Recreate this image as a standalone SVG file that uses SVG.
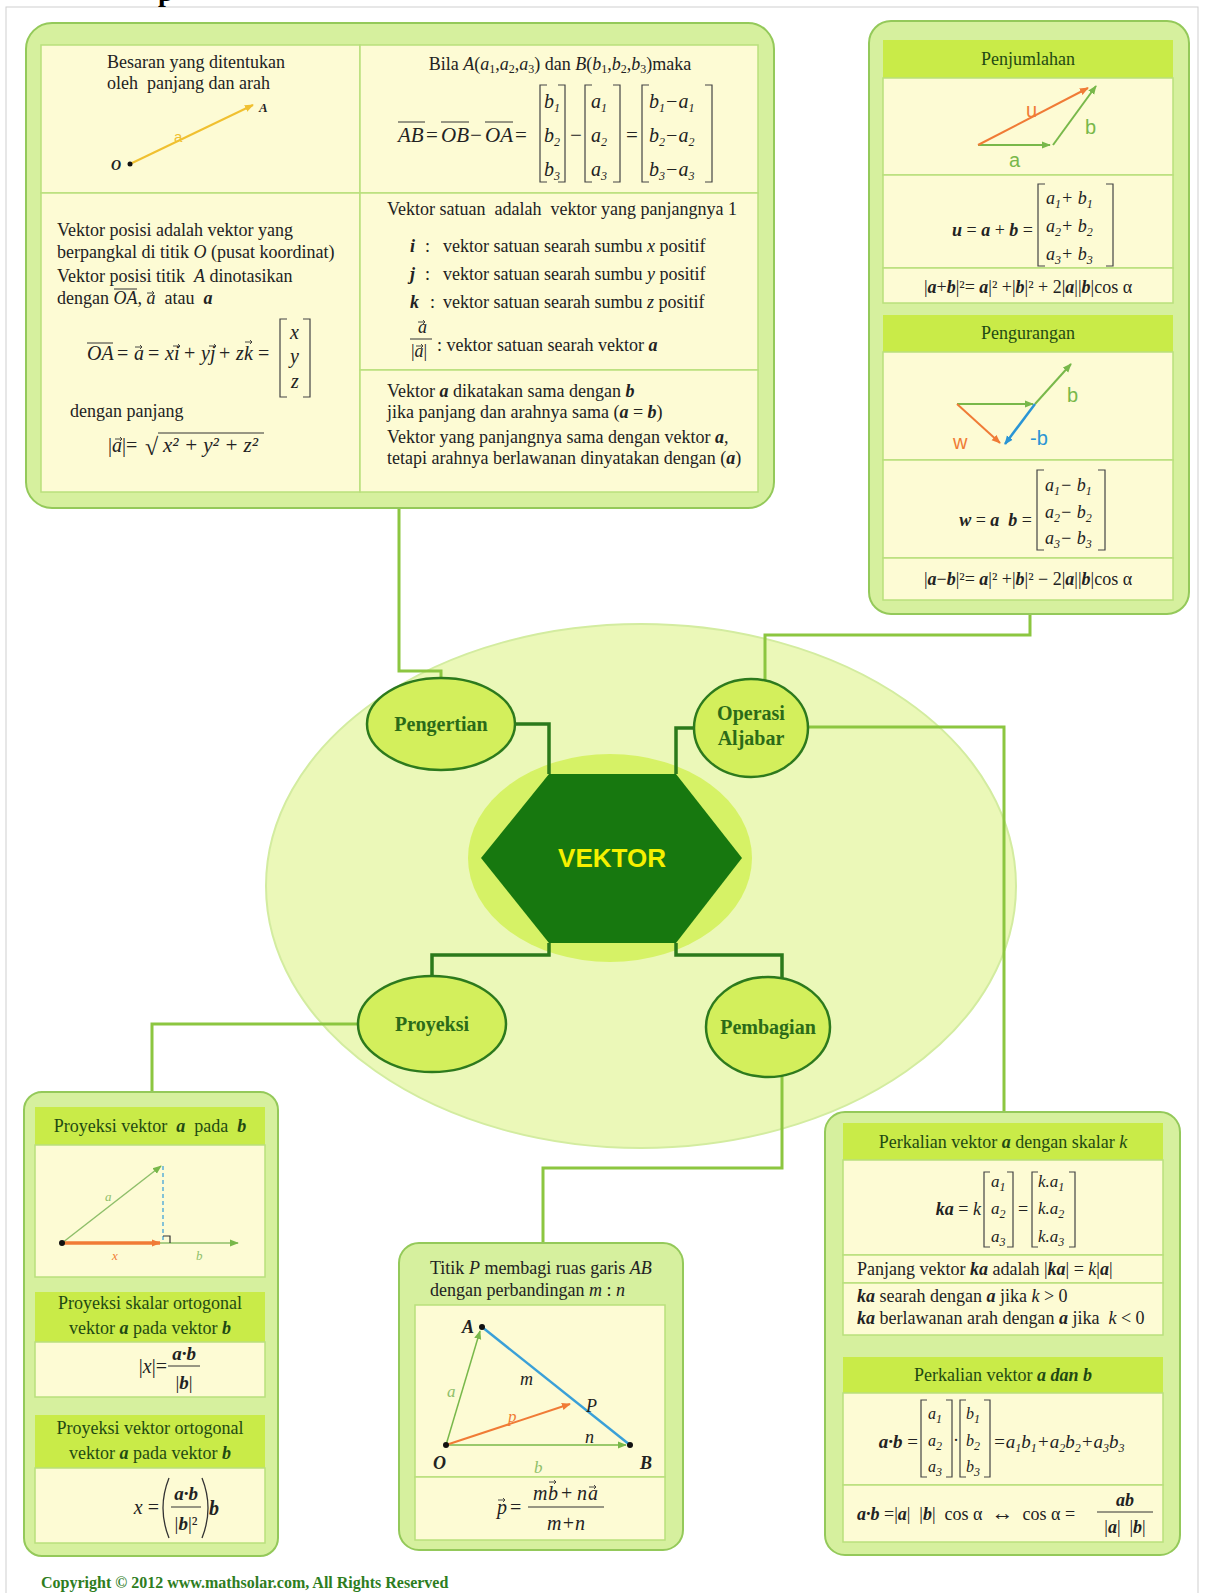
<svg xmlns="http://www.w3.org/2000/svg" xmlns:xlink="http://www.w3.org/1999/xlink" width="1213" height="1593" viewBox="0 0 1213 1593">
<style>
.t{font-family:"Liberation Serif","Times New Roman",serif;font-size:18px;fill:#222}
.i{font-style:italic}
.bi{font-style:italic;font-weight:bold}
.sb{font-size:12px}
.outer{fill:#d6f09e;stroke:#94c95a;stroke-width:2}
.cell{fill:#fdfbd4;stroke:#b9e07c;stroke-width:1.5}
.hdr{fill:#c9eb48}
.ht{font-family:"Liberation Serif","Times New Roman",serif;font-size:18px;fill:#1f4a12;text-anchor:middle}
.node{fill:#d3ef5c;stroke:#2d7a1d;stroke-width:2.5}
.nt{font-family:"Liberation Serif","Times New Roman",serif;font-weight:bold;font-size:20px;fill:#2b6b18;text-anchor:middle}
.lc{fill:none;stroke:#8cc640;stroke-width:3}
.dc{fill:none;stroke:#2b7a1b;stroke-width:3.5}
.br{fill:none;stroke:#444;stroke-width:1.2}
.ln{stroke:#333;stroke-width:1}
.lab{font-family:"Liberation Sans",Arial,sans-serif;font-size:20px}
.m{font-family:"Liberation Serif","Times New Roman",serif;font-size:20px;font-style:italic;fill:#222}
.u{font-family:"Liberation Serif","Times New Roman",serif;font-size:20px;fill:#222}
</style>
<defs>
<marker id="ag" viewBox="0 0 10 10" refX="9" refY="5" markerWidth="9" markerHeight="9" orient="auto" markerUnits="userSpaceOnUse"><path d="M0,1 L10,5 L0,9 z" fill="#78b84a"/></marker>
<marker id="ao" viewBox="0 0 10 10" refX="9" refY="5" markerWidth="9" markerHeight="9" orient="auto" markerUnits="userSpaceOnUse"><path d="M0,1 L10,5 L0,9 z" fill="#f07b36"/></marker>
<marker id="ab" viewBox="0 0 10 10" refX="9" refY="5" markerWidth="9" markerHeight="9" orient="auto" markerUnits="userSpaceOnUse"><path d="M0,1 L10,5 L0,9 z" fill="#2a95d5"/></marker>
<marker id="ay" viewBox="0 0 10 10" refX="9" refY="5" markerWidth="9" markerHeight="9" orient="auto" markerUnits="userSpaceOnUse"><path d="M0,1 L10,5 L0,9 z" fill="#f0c030"/></marker>
<path id="vec" d="M0,0 H7 M5,-2 L7,0 L5,2" fill="none" stroke="#333" stroke-width="0.9"/>
</defs>
<rect width="1213" height="1593" fill="#ffffff"/>
<rect x="6" y="7" width="1192" height="1620" fill="none" stroke="#cfcfcf" stroke-width="1"/>
<text x="158" y="1" style="font-family:'Liberation Serif',serif;font-weight:bold;font-size:28px;fill:#000">p</text>

<g id="center-ellipse">
<ellipse cx="641" cy="886" rx="375" ry="262" fill="#ebf8b8" stroke="#d3eca0" stroke-width="2"/>
<ellipse cx="610" cy="858" rx="142" ry="104" fill="#d6f266"/>
</g>

<g id="connectors">
<path class="lc" d="M399,508 V671 H441 V678"/>
<path class="lc" d="M1030,614 V635 H765 V680"/>
<path class="lc" d="M808,727 H1004 V1112"/>
<path class="lc" d="M358,1024 H152 V1092"/>
<path class="lc" d="M782,1076 V1168 H543 V1243"/>
<path class="dc" d="M515,724 H549 V774"/>
<path class="dc" d="M694,728 H676 V774"/>
<path class="dc" d="M549,943 V955 H432 V976"/>
<path class="dc" d="M676,943 V955 H782 V978"/>
</g>

<g id="vektor">
<polygon points="549,774 676,774 742,858 676,943 549,943 481,858" fill="#17780f"/>
<text x="612" y="867" text-anchor="middle" style="font-family:'Liberation Sans',Arial,sans-serif;font-weight:bold;font-size:26px;fill:#f5f000">VEKTOR</text>
</g>
<g id="pengertian">
<ellipse class="node" cx="441" cy="724" rx="74" ry="46"/>
<text class="nt" x="441" y="731">Pengertian</text>
</g>
<g id="operasi-aljabar">
<ellipse class="node" cx="751" cy="728" rx="57" ry="49"/>
<text class="nt" x="751" y="720">Operasi</text>
<text class="nt" x="751" y="745">Aljabar</text>
</g>
<g id="proyeksi">
<ellipse class="node" cx="432" cy="1024" rx="74" ry="48"/>
<text class="nt" x="432" y="1031">Proyeksi</text>
</g>
<g id="pembagian">
<ellipse class="node" cx="768" cy="1027" rx="62" ry="50"/>
<text class="nt" x="768" y="1034">Pembagian</text>
</g>

<g id="box-pengertian">
<rect class="outer" x="26" y="23" width="748" height="485" rx="26"/>
<rect class="cell" x="41" y="45" width="319" height="148"/>
<rect class="cell" x="360" y="45" width="398" height="148"/>
<rect class="cell" x="41" y="193" width="319" height="299"/>
<rect class="cell" x="360" y="193" width="398" height="177"/>
<rect class="cell" x="360" y="370" width="398" height="122"/>
<text class="t" x="107" y="68">Besaran yang ditentukan</text>
<text class="t" x="107" y="89" xml:space="preserve">oleh  panjang dan arah</text>
<line x1="130" y1="164" x2="253" y2="105" stroke="#f0c030" stroke-width="2" marker-end="url(#ay)"/>
<circle cx="130" cy="164" r="2.5" fill="#111"/>
<text class="t bi" x="111" y="170" style="font-size:14px">O</text>
<text class="t bi" x="259" y="112" style="font-size:13px">A</text>
<text class="lab" x="174" y="142" style="font-size:15px;fill:#f0c030">a</text>

<text class="t" x="560" y="70" text-anchor="middle">Bila <tspan class="i">A</tspan>(<tspan class="i">a</tspan><tspan class="sb" dy="3">1</tspan><tspan dy="-3">,</tspan><tspan class="i">a</tspan><tspan class="sb" dy="3">2</tspan><tspan dy="-3">,</tspan><tspan class="i">a</tspan><tspan class="sb" dy="3">3</tspan><tspan dy="-3">) dan </tspan><tspan class="i">B</tspan>(<tspan class="i">b</tspan><tspan class="sb" dy="3">1</tspan><tspan dy="-3">,</tspan><tspan class="i">b</tspan><tspan class="sb" dy="3">2</tspan><tspan dy="-3">,</tspan><tspan class="i">b</tspan><tspan class="sb" dy="3">3</tspan><tspan dy="-3">)maka</tspan></text>
<text class="m" x="398" y="142" style="font-size:21px">AB</text>
<text class="u" x="426" y="142" style="font-size:21px">=</text>
<text class="m" x="441" y="142" style="font-size:21px">OB</text>
<text class="u" x="470" y="142" style="font-size:21px">−</text>
<text class="m" x="485" y="142" style="font-size:21px">OA</text>
<text class="u" x="515" y="142" style="font-size:21px">=</text>
<line class="ln" x1="398" y1="122" x2="425" y2="122"/>
<line class="ln" x1="441" y1="122" x2="469" y2="122"/>
<line class="ln" x1="485" y1="122" x2="513" y2="122"/>
<path class="br" d="M547,85 H540 V182 H547 M558,85 H565 V182 H558"/>
<text class="m" x="544" y="108">b<tspan class="sb" dy="4">1</tspan></text>
<text class="m" x="544" y="142">b<tspan class="sb" dy="4">2</tspan></text>
<text class="m" x="544" y="176">b<tspan class="sb" dy="4">3</tspan></text>
<text class="u" x="570" y="142" style="font-size:21px">−</text>
<path class="br" d="M592,85 H585 V182 H592 M613,85 H620 V182 H613"/>
<text class="m" x="591" y="108">a<tspan class="sb" dy="4">1</tspan></text>
<text class="m" x="591" y="142">a<tspan class="sb" dy="4">2</tspan></text>
<text class="m" x="591" y="176">a<tspan class="sb" dy="4">3</tspan></text>
<text class="u" x="626" y="142" style="font-size:21px">=</text>
<path class="br" d="M649,85 H642 V182 H649 M705,85 H712 V182 H705"/>
<text class="m" x="649" y="108">b<tspan class="sb" dy="4">1</tspan><tspan class="u" dy="-4">−</tspan>a<tspan class="sb" dy="4">1</tspan></text>
<text class="m" x="649" y="142">b<tspan class="sb" dy="4">2</tspan><tspan class="u" dy="-4">−</tspan>a<tspan class="sb" dy="4">2</tspan></text>
<text class="m" x="649" y="176">b<tspan class="sb" dy="4">3</tspan><tspan class="u" dy="-4">−</tspan>a<tspan class="sb" dy="4">3</tspan></text>

<text class="t" x="57" y="236">Vektor posisi adalah vektor yang</text>
<text class="t" x="57" y="258">berpangkal di titik <tspan class="i">O</tspan> (pusat koordinat)</text>
<text class="t" x="57" y="282" xml:space="preserve">Vektor posisi titik  <tspan class="i">A</tspan> dinotasikan</text>
<text class="t" x="57" y="304" xml:space="preserve">dengan <tspan class="i">OA</tspan>, <tspan class="i">a</tspan>  atau  <tspan class="bi">a</tspan></text>
<line class="ln" x1="114" y1="289" x2="137" y2="289"/>
<use href="#vec" x="147" y="293"/>
<text class="m" x="87" y="360">OA</text>
<line class="ln" x1="87" y1="343" x2="113" y2="343"/>
<text class="u" x="117" y="360">=</text>
<text class="m" x="134" y="360">a</text>
<use href="#vec" x="135" y="347"/>
<text class="u" x="148" y="360">=</text>
<text class="m" x="165" y="360">x</text>
<text class="m" x="174" y="360">i</text>
<use href="#vec" x="173" y="346"/>
<text class="u" x="184" y="360">+</text>
<text class="m" x="201" y="360">y</text>
<text class="m" x="210" y="360">j</text>
<use href="#vec" x="209" y="346"/>
<text class="u" x="219" y="360">+</text>
<text class="m" x="236" y="360">z</text>
<text class="m" x="244" y="360">k</text>
<use href="#vec" x="245" y="342"/>
<text class="u" x="258" y="360">=</text>
<path class="br" d="M287,319 H280 V397 H287 M303,319 H310 V397 H303"/>
<text class="m" x="290" y="339">x</text>
<text class="m" x="290" y="363">y</text>
<text class="m" x="291" y="388">z</text>
<text class="t" x="70" y="417">dengan panjang</text>
<text class="u" x="108" y="452">|<tspan class="i">a</tspan>|=</text>
<use href="#vec" x="115" y="439"/>
<text class="u" x="145" y="455" style="font-size:24px">√</text>
<line class="ln" x1="158" y1="433" x2="264" y2="433"/>
<text class="m" x="163" y="452" style="font-size:21px" xml:space="preserve">x²<tspan class="u" style="font-size:21px"> + </tspan>y²<tspan class="u" style="font-size:21px"> + </tspan>z²</text>

<text class="t" x="387" y="215" xml:space="preserve">Vektor satuan  adalah  vektor yang panjangnya 1</text>
<text class="t bi" x="410" y="252">i</text>
<text class="t" x="425" y="252">:</text>
<text class="t" x="443" y="252">vektor satuan searah sumbu <tspan class="i">x</tspan> positif</text>
<text class="t bi" x="410" y="280">j</text>
<text class="t" x="425" y="280">:</text>
<text class="t" x="443" y="280">vektor satuan searah sumbu <tspan class="i">y</tspan> positif</text>
<text class="t bi" x="410" y="308">k</text>
<text class="t" x="430" y="308">:</text>
<text class="t" x="443" y="308">vektor satuan searah sumbu <tspan class="i">z</tspan> positif</text>
<text class="t i" x="418" y="333">a</text>
<use href="#vec" x="418" y="322"/>
<line class="ln" x1="410" y1="339" x2="432" y2="339"/>
<text class="t" x="411" y="357">|<tspan class="i">a</tspan>|</text>
<use href="#vec" x="416" y="346"/>
<text class="t" x="437" y="351">: vektor satuan searah vektor <tspan class="bi">a</tspan></text>

<text class="t" x="387" y="397">Vektor <tspan class="bi">a</tspan> dikatakan sama dengan <tspan class="bi">b</tspan></text>
<text class="t" x="387" y="418">jika panjang dan arahnya sama (<tspan class="bi">a</tspan> = <tspan class="bi">b</tspan>)</text>
<text class="t" x="387" y="443">Vektor yang panjangnya sama dengan vektor <tspan class="bi">a</tspan>,</text>
<text class="t" x="387" y="464">tetapi arahnya berlawanan dinyatakan dengan (<tspan class="bi">a</tspan>)</text>
</g>

<g id="box-operasi">
<rect class="outer" x="869" y="21" width="320" height="593" rx="22"/>
<rect class="hdr" x="883" y="40" width="290" height="38"/>
<rect class="cell" x="883" y="78" width="290" height="97"/>
<rect class="cell" x="883" y="175" width="290" height="93"/>
<rect class="cell" x="883" y="268" width="290" height="35"/>
<text class="ht" x="1028" y="65">Penjumlahan</text>
<line x1="978" y1="145" x2="1050" y2="145" stroke="#78b84a" stroke-width="2" marker-end="url(#ag)"/>
<line x1="1053" y1="145" x2="1096" y2="86" stroke="#78b84a" stroke-width="2" marker-end="url(#ag)"/>
<line x1="978" y1="145" x2="1088" y2="88" stroke="#f07b36" stroke-width="2" marker-end="url(#ao)"/>
<text class="lab" x="1026" y="117" style="fill:#f07b36">u</text>
<text class="lab" x="1085" y="134" style="fill:#78b84a">b</text>
<text class="lab" x="1009" y="167" style="fill:#78b84a">a</text>
<text class="t" x="1033" y="236" text-anchor="end" xml:space="preserve"><tspan class="bi">u</tspan> = <tspan class="bi">a</tspan> + <tspan class="bi">b</tspan> =</text>
<path class="br" d="M1045,184 H1038 V266 H1045 M1106,184 H1113 V266 H1106"/>
<text class="m" x="1046" y="204" style="font-size:18px">a<tspan class="sb" dy="4">1</tspan><tspan class="u" dy="-4" style="font-size:18px">+ </tspan>b<tspan class="sb" dy="4">1</tspan></text>
<text class="m" x="1046" y="232" style="font-size:18px">a<tspan class="sb" dy="4">2</tspan><tspan class="u" dy="-4" style="font-size:18px">+ </tspan>b<tspan class="sb" dy="4">2</tspan></text>
<text class="m" x="1046" y="260" style="font-size:18px">a<tspan class="sb" dy="4">3</tspan><tspan class="u" dy="-4" style="font-size:18px">+ </tspan>b<tspan class="sb" dy="4">3</tspan></text>
<text class="t" x="1028" y="293" text-anchor="middle">|<tspan class="bi">a</tspan>+<tspan class="bi">b</tspan>|²= <tspan class="bi">a</tspan>|² +|<tspan class="bi">b</tspan>|² + 2|<tspan class="bi">a</tspan>||<tspan class="bi">b</tspan>|cos α</text>

<rect class="hdr" x="883" y="315" width="290" height="37"/>
<rect class="cell" x="883" y="352" width="290" height="108"/>
<rect class="cell" x="883" y="460" width="290" height="98"/>
<rect class="cell" x="883" y="558" width="290" height="42"/>
<text class="ht" x="1028" y="339">Pengurangan</text>
<line x1="957" y1="404" x2="1033" y2="404" stroke="#78b84a" stroke-width="2" marker-end="url(#ag)"/>
<line x1="1035" y1="404" x2="1071" y2="364" stroke="#78b84a" stroke-width="2" marker-end="url(#ag)"/>
<line x1="1035" y1="404" x2="1005" y2="444" stroke="#2a95d5" stroke-width="2.5" marker-end="url(#ab)"/>
<line x1="957" y1="404" x2="1000" y2="443" stroke="#f07b36" stroke-width="2" marker-end="url(#ao)"/>
<text class="lab" x="1067" y="402" style="fill:#78b84a">b</text>
<text class="lab" x="1030" y="445" style="fill:#2a95d5">-b</text>
<text class="lab" x="953" y="449" style="fill:#f07b36">w</text>
<text class="t" x="1032" y="526" text-anchor="end" xml:space="preserve"><tspan class="bi">w</tspan> = <tspan class="bi">a</tspan>  <tspan class="bi">b</tspan> =</text>
<path class="br" d="M1044,470 H1037 V550 H1044 M1098,470 H1105 V550 H1098"/>
<text class="m" x="1045" y="491" style="font-size:18px">a<tspan class="sb" dy="4">1</tspan><tspan class="u" dy="-4" style="font-size:18px">− </tspan>b<tspan class="sb" dy="4">1</tspan></text>
<text class="m" x="1045" y="518" style="font-size:18px">a<tspan class="sb" dy="4">2</tspan><tspan class="u" dy="-4" style="font-size:18px">− </tspan>b<tspan class="sb" dy="4">2</tspan></text>
<text class="m" x="1045" y="544" style="font-size:18px">a<tspan class="sb" dy="4">3</tspan><tspan class="u" dy="-4" style="font-size:18px">− </tspan>b<tspan class="sb" dy="4">3</tspan></text>
<text class="t" x="1028" y="585" text-anchor="middle">|<tspan class="bi">a</tspan>−<tspan class="bi">b</tspan>|²= <tspan class="bi">a</tspan>|² +|<tspan class="bi">b</tspan>|² − 2|<tspan class="bi">a</tspan>||<tspan class="bi">b</tspan>|cos α</text>
</g>

<g id="box-proyeksi">
<rect class="outer" x="24" y="1092" width="254" height="464" rx="18"/>
<rect class="hdr" x="35" y="1107" width="230" height="38"/>
<rect class="cell" x="35" y="1145" width="230" height="132"/>
<rect class="hdr" x="35" y="1292" width="230" height="50"/>
<rect class="cell" x="35" y="1342" width="230" height="55"/>
<rect class="hdr" x="35" y="1415" width="230" height="53"/>
<rect class="cell" x="35" y="1468" width="230" height="75"/>
<text class="ht" x="150" y="1132" xml:space="preserve">Proyeksi vektor  <tspan class="bi">a</tspan>  pada  <tspan class="bi">b</tspan></text>
<line x1="62" y1="1243" x2="238" y2="1243" stroke="#8fbf6a" stroke-width="1.5" marker-end="url(#ag)"/>
<line x1="62" y1="1243" x2="161" y2="1166" stroke="#8fbf6a" stroke-width="1.5" marker-end="url(#ag)"/>
<line x1="163" y1="1166" x2="163" y2="1241" stroke="#5bb0d8" stroke-width="1.5" stroke-dasharray="4,3"/>
<path d="M163,1236 H170 V1243" fill="none" stroke="#333" stroke-width="1.2"/>
<line x1="62" y1="1243" x2="160" y2="1243" stroke="#f07b36" stroke-width="3.5" marker-end="url(#ao)"/>
<circle cx="62" cy="1243" r="3" fill="#111"/>
<text class="t i" x="105" y="1201" style="font-size:13px;fill:#8fbf6a">a</text>
<text class="t i" x="112" y="1260" style="font-size:13px;fill:#f07b36">x</text>
<text class="t i" x="196" y="1260" style="font-size:13px;fill:#8fbf6a">b</text>
<text class="ht" x="150" y="1309">Proyeksi skalar ortogonal</text>
<text class="ht" x="150" y="1334">vektor <tspan class="bi">a</tspan> pada vektor <tspan class="bi">b</tspan></text>
<text class="u" x="167" y="1373" text-anchor="end">|<tspan class="i">x</tspan>|=</text>
<text class="t bi" x="184" y="1360" text-anchor="middle" style="font-size:19px">a·b</text>
<line class="ln" x1="168" y1="1366" x2="200" y2="1366"/>
<text class="t" x="184" y="1389" text-anchor="middle" style="font-size:19px">|<tspan class="bi">b</tspan>|</text>
<text class="ht" x="150" y="1434">Proyeksi vektor ortogonal</text>
<text class="ht" x="150" y="1459">vektor <tspan class="bi">a</tspan> pada vektor <tspan class="bi">b</tspan></text>
<text class="u" x="159" y="1514" text-anchor="end" xml:space="preserve"><tspan class="i">x</tspan> =</text>
<path d="M169,1478 Q157,1508 169,1538 M202,1478 Q214,1508 202,1538" fill="none" stroke="#333" stroke-width="1.3"/>
<text class="t bi" x="186" y="1500" text-anchor="middle" style="font-size:19px">a·b</text>
<line class="ln" x1="171" y1="1507" x2="201" y2="1507"/>
<text class="t" x="186" y="1530" text-anchor="middle" style="font-size:19px">|<tspan class="bi">b</tspan>|²</text>
<text class="t bi" x="209" y="1515" style="font-size:20px">b</text>
</g>

<g id="box-pembagian">
<rect class="outer" x="399" y="1243" width="284" height="307" rx="20"/>
<rect class="cell" x="415" y="1305" width="250" height="172"/>
<rect class="cell" x="415" y="1477" width="250" height="63"/>
<text class="t" x="430" y="1274">Titik <tspan class="i">P</tspan> membagi ruas garis <tspan class="i">AB</tspan></text>
<text class="t" x="430" y="1296">dengan perbandingan <tspan class="i">m</tspan> : <tspan class="i">n</tspan></text>
<line x1="482" y1="1327" x2="630" y2="1445" stroke="#3aa0d8" stroke-width="2.5"/>
<line x1="446" y1="1445" x2="480" y2="1331" stroke="#78b84a" stroke-width="1.5" marker-end="url(#ag)"/>
<line x1="446" y1="1445" x2="626" y2="1445" stroke="#78b84a" stroke-width="1.5" marker-end="url(#ag)"/>
<line x1="446" y1="1445" x2="570" y2="1404" stroke="#f07b36" stroke-width="2" marker-end="url(#ao)"/>
<circle cx="482" cy="1327" r="3" fill="#111"/>
<circle cx="446" cy="1445" r="3" fill="#111"/>
<circle cx="630" cy="1445" r="3" fill="#111"/>
<text class="t bi" x="462" y="1333" style="font-size:18px">A</text>
<text class="t bi" x="433" y="1469" style="font-size:18px">O</text>
<text class="t bi" x="640" y="1469" style="font-size:18px">B</text>
<text class="t i" x="586" y="1412" style="font-size:18px">P</text>
<text class="t i" x="520" y="1385" style="font-size:18px">m</text>
<text class="t i" x="585" y="1443" style="font-size:18px">n</text>
<text class="t i" x="447" y="1397" style="font-size:17px;fill:#8fbf6a">a</text>
<text class="t i" x="508" y="1422" style="font-size:17px;fill:#f07b36">p</text>
<text class="t i" x="534" y="1473" style="font-size:17px;fill:#8fbf6a">b</text>
<text class="m" x="497" y="1514">p</text>
<use href="#vec" x="498" y="1500"/>
<text class="u" x="510" y="1514">=</text>
<text class="m" x="533" y="1500">m</text>
<text class="m" x="548" y="1500">b</text>
<use href="#vec" x="549" y="1482"/>
<text class="u" x="561" y="1500">+</text>
<text class="m" x="577" y="1500">n</text>
<text class="m" x="588" y="1500">a</text>
<use href="#vec" x="589" y="1487"/>
<line class="ln" x1="528" y1="1507" x2="604" y2="1507"/>
<text class="m" x="566" y="1530" text-anchor="middle">m<tspan class="u">+</tspan>n</text>
</g>

<g id="box-perkalian">
<rect class="outer" x="825" y="1112" width="355" height="443" rx="20"/>
<rect class="hdr" x="843" y="1123" width="320" height="37"/>
<rect class="cell" x="843" y="1160" width="320" height="95"/>
<rect class="cell" x="843" y="1255" width="320" height="28"/>
<rect class="cell" x="843" y="1283" width="320" height="52"/>
<rect class="hdr" x="843" y="1357" width="320" height="36"/>
<rect class="cell" x="843" y="1393" width="320" height="92"/>
<rect class="cell" x="843" y="1485" width="320" height="57"/>
<text class="ht" x="1003" y="1148">Perkalian vektor <tspan class="bi">a</tspan> dengan skalar <tspan class="i">k</tspan></text>
<text class="t" x="981" y="1215" text-anchor="end"><tspan class="bi">ka</tspan> = <tspan class="i">k</tspan></text>
<path class="br" d="M990,1172 H984 V1247 H990 M1007,1172 H1013 V1247 H1007"/>
<text class="m" x="991" y="1187" style="font-size:17px">a<tspan class="sb" dy="4">1</tspan></text>
<text class="m" x="991" y="1214" style="font-size:17px">a<tspan class="sb" dy="4">2</tspan></text>
<text class="m" x="991" y="1242" style="font-size:17px">a<tspan class="sb" dy="4">3</tspan></text>
<text class="t" x="1018" y="1215">=</text>
<path class="br" d="M1038,1172 H1032 V1247 H1038 M1069,1172 H1075 V1247 H1069"/>
<text class="m" x="1038" y="1187" style="font-size:17px">k.a<tspan class="sb" dy="4">1</tspan></text>
<text class="m" x="1038" y="1214" style="font-size:17px">k.a<tspan class="sb" dy="4">2</tspan></text>
<text class="m" x="1038" y="1242" style="font-size:17px">k.a<tspan class="sb" dy="4">3</tspan></text>
<text class="t" x="857" y="1275">Panjang vektor <tspan class="bi">ka</tspan> adalah |<tspan class="bi">ka</tspan>| = <tspan class="i">k</tspan>|<tspan class="bi">a</tspan>|</text>
<text class="t" x="857" y="1302"><tspan class="bi">ka</tspan> searah dengan <tspan class="bi">a</tspan> jika <tspan class="i">k</tspan> &gt; 0</text>
<text class="t" x="857" y="1324" xml:space="preserve"><tspan class="bi">ka</tspan> berlawanan arah dengan <tspan class="bi">a</tspan> jika  <tspan class="i">k</tspan> &lt; 0</text>
<text class="ht" x="1003" y="1381">Perkalian vektor <tspan class="bi">a dan b</tspan></text>
<text class="t bi" x="918" y="1448" text-anchor="end" style="font-size:19px">a·b<tspan style="font-style:normal;font-weight:normal"> =</tspan></text>
<path class="br" d="M927,1400 H921 V1477 H927 M946,1400 H952 V1477 H946"/>
<text class="m" x="928" y="1419" style="font-size:16px">a<tspan class="sb" dy="4">1</tspan></text>
<text class="m" x="928" y="1446" style="font-size:16px">a<tspan class="sb" dy="4">2</tspan></text>
<text class="m" x="928" y="1472" style="font-size:16px">a<tspan class="sb" dy="4">3</tspan></text>
<text class="t" x="953" y="1446">·</text>
<path class="br" d="M966,1400 H960 V1477 H966 M984,1400 H990 V1477 H984"/>
<text class="m" x="966" y="1419" style="font-size:16px">b<tspan class="sb" dy="4">1</tspan></text>
<text class="m" x="966" y="1446" style="font-size:16px">b<tspan class="sb" dy="4">2</tspan></text>
<text class="m" x="966" y="1472" style="font-size:16px">b<tspan class="sb" dy="4">3</tspan></text>
<text class="m" x="993" y="1448" style="font-size:19px"><tspan class="u" style="font-size:19px">=</tspan>a<tspan class="sb" dy="4">1</tspan><tspan dy="-4">b</tspan><tspan class="sb" dy="4">1</tspan><tspan class="u" dy="-4" style="font-size:19px">+</tspan>a<tspan class="sb" dy="4">2</tspan><tspan dy="-4">b</tspan><tspan class="sb" dy="4">2</tspan><tspan class="u" dy="-4" style="font-size:19px">+</tspan>a<tspan class="sb" dy="4">3</tspan><tspan dy="-4">b</tspan><tspan class="sb" dy="4">3</tspan></text>
<text class="t" x="857" y="1520" xml:space="preserve"><tspan class="bi">a·b</tspan> =|<tspan class="bi">a</tspan>|  |<tspan class="bi">b</tspan>|  cos α  <tspan style="font-size:22px">↔</tspan>  cos α =</text>
<text class="t bi" x="1125" y="1506" text-anchor="middle">ab</text>
<line class="ln" x1="1097" y1="1512" x2="1153" y2="1512"/>
<text class="t" x="1125" y="1533" text-anchor="middle" xml:space="preserve">|<tspan class="bi">a</tspan>|  |<tspan class="bi">b</tspan>|</text>
</g>

<text x="41" y="1588" style="font-family:'Liberation Serif',serif;font-weight:bold;font-size:16px;fill:#2e7d1e">Copyright © 2012 www.mathsolar.com, All Rights Reserved</text>
</svg>
